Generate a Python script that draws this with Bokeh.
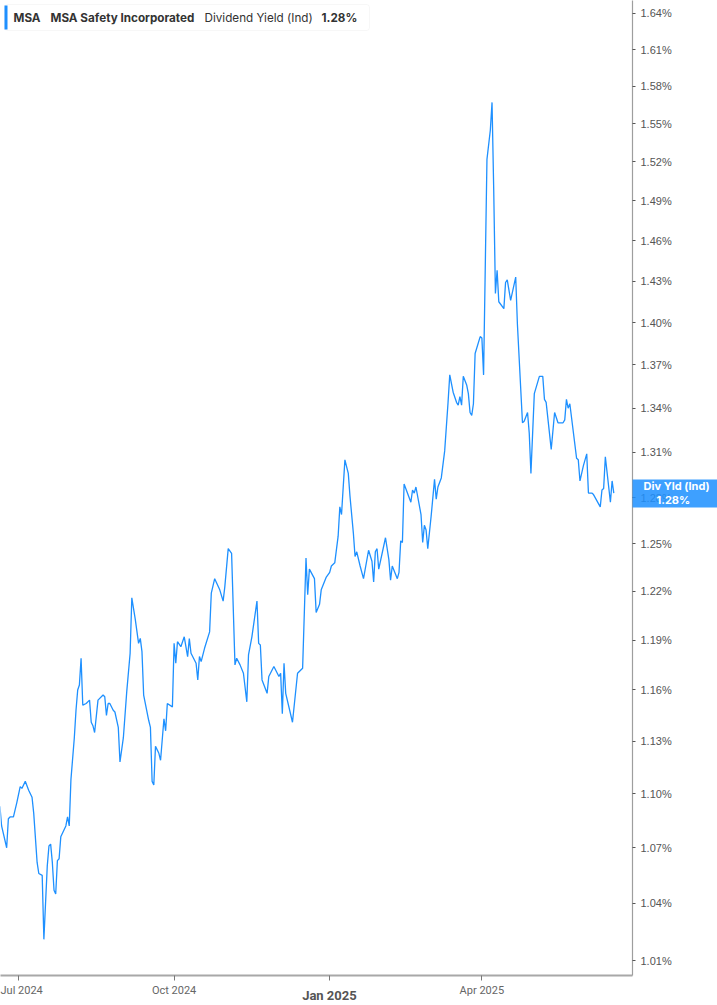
import pandas as pd
from bokeh.plotting import figure
from bokeh.models import FixedTicker, PrintfTickFormatter, Label, BoxAnnotation, Range1d, LogAxis
from bokeh.embed import file_html
from bokeh.resources import INLINE

# ---------------- data ----------------
dates = [
    "2024-06-20", "2024-06-21", "2024-06-24", "2024-06-25", "2024-06-26", "2024-06-28", "2024-06-30",
    "2024-07-02", "2024-07-03", "2024-07-05", "2024-07-07", "2024-07-09", "2024-07-10", "2024-07-12",
    "2024-07-13", "2024-07-15", "2024-07-16", "2024-07-18", "2024-07-19", "2024-07-20", "2024-07-21",
    "2024-07-22", "2024-07-23", "2024-07-24", "2024-07-25", "2024-07-26", "2024-07-29", "2024-07-30",
    "2024-07-31", "2024-08-01", "2024-08-03", "2024-08-04", "2024-08-05", "2024-08-06", "2024-08-07",
    "2024-08-08", "2024-08-10", "2024-08-12", "2024-08-13", "2024-08-14", "2024-08-15", "2024-08-17",
    "2024-08-20", "2024-08-21", "2024-08-22", "2024-08-23", "2024-08-24", "2024-08-26", "2024-08-27",
    "2024-08-29", "2024-08-30", "2024-09-01", "2024-09-03", "2024-09-05", "2024-09-06", "2024-09-08",
    "2024-09-10", "2024-09-11", "2024-09-12", "2024-09-13", "2024-09-16", "2024-09-17", "2024-09-18",
    "2024-09-19", "2024-09-20", "2024-09-22", "2024-09-23", "2024-09-25", "2024-09-26", "2024-09-27",
    "2024-09-30", "2024-10-01", "2024-10-02", "2024-10-03", "2024-10-05", "2024-10-07", "2024-10-09",
    "2024-10-10", "2024-10-11", "2024-10-14", "2024-10-15", "2024-10-16", "2024-10-17", "2024-10-19",
    "2024-10-22", "2024-10-23", "2024-10-25", "2024-10-28", "2024-10-30", "2024-10-31", "2024-11-02",
    "2024-11-04", "2024-11-06", "2024-11-07", "2024-11-09", "2024-11-11", "2024-11-13", "2024-11-14",
    "2024-11-16", "2024-11-19", "2024-11-20", "2024-11-21", "2024-11-22", "2024-11-25", "2024-11-26",
    "2024-11-29", "2024-12-02", "2024-12-03", "2024-12-04", "2024-12-05", "2024-12-06", "2024-12-10",
    "2024-12-13", "2024-12-16", "2024-12-18", "2024-12-19", "2024-12-20", "2024-12-23", "2024-12-24",
    "2024-12-26", "2024-12-27", "2024-12-30", "2025-01-01", "2025-01-02", "2025-01-04", "2025-01-06",
    "2025-01-07", "2025-01-08", "2025-01-10", "2025-01-12", "2025-01-13", "2025-01-15", "2025-01-16",
    "2025-01-17", "2025-01-19", "2025-01-21", "2025-01-24", "2025-01-26", "2025-01-27", "2025-01-28",
    "2025-01-29", "2025-01-30", "2025-02-03", "2025-02-05", "2025-02-06", "2025-02-07", "2025-02-10",
    "2025-02-11", "2025-02-12", "2025-02-13", "2025-02-14", "2025-02-18", "2025-02-19", "2025-02-20",
    "2025-02-21", "2025-02-24", "2025-02-25", "2025-02-26", "2025-02-27", "2025-02-28", "2025-03-02",
    "2025-03-04", "2025-03-05", "2025-03-06", "2025-03-08", "2025-03-10", "2025-03-12", "2025-03-13",
    "2025-03-15", "2025-03-17", "2025-03-18", "2025-03-19", "2025-03-20", "2025-03-21", "2025-03-23",
    "2025-03-24", "2025-03-25", "2025-03-26", "2025-03-27", "2025-03-28", "2025-03-31", "2025-04-01",
    "2025-04-02", "2025-04-04", "2025-04-06", "2025-04-07", "2025-04-08", "2025-04-09", "2025-04-10",
    "2025-04-11", "2025-04-14", "2025-04-15", "2025-04-16", "2025-04-18", "2025-04-21", "2025-04-22",
    "2025-04-25", "2025-04-26", "2025-04-28", "2025-04-29", "2025-04-30", "2025-05-02", "2025-05-05",
    "2025-05-07", "2025-05-08", "2025-05-09", "2025-05-12", "2025-05-14", "2025-05-16", "2025-05-19",
    "2025-05-20", "2025-05-21", "2025-05-22", "2025-05-23", "2025-05-27", "2025-05-28", "2025-05-29",
    "2025-05-31", "2025-06-02", "2025-06-03", "2025-06-05", "2025-06-06", "2025-06-10", "2025-06-11",
    "2025-06-12", "2025-06-13", "2025-06-16", "2025-06-17", "2025-06-18",
]

div_yield = [
    1.093, 1.082, 1.070, 1.086, 1.087, 1.087, 1.095,
    1.104, 1.103, 1.107, 1.102, 1.098, 1.089, 1.062,
    1.056, 1.055, 1.021, 1.060, 1.071, 1.072, 1.062,
    1.047, 1.045, 1.063, 1.064, 1.076, 1.082, 1.087,
    1.082, 1.108, 1.132, 1.148, 1.160, 1.163, 1.179,
    1.151, 1.152, 1.154, 1.141, 1.139, 1.135, 1.154,
    1.157, 1.156, 1.145, 1.152, 1.152, 1.148, 1.147,
    1.138, 1.118, 1.132, 1.159, 1.182, 1.216, 1.203,
    1.188, 1.191, 1.183, 1.157, 1.142, 1.138, 1.107,
    1.105, 1.127, 1.123, 1.119, 1.143, 1.136, 1.152,
    1.150, 1.188, 1.176, 1.189, 1.186, 1.192, 1.180,
    1.191, 1.182, 1.176, 1.166, 1.180, 1.177, 1.185,
    1.195, 1.219, 1.228, 1.221, 1.214, 1.223, 1.247,
    1.244, 1.175, 1.179, 1.175, 1.170, 1.153, 1.181,
    1.192, 1.214, 1.188, 1.187, 1.166, 1.158, 1.168,
    1.174, 1.168, 1.170, 1.146, 1.176, 1.158, 1.141,
    1.170, 1.173, 1.241, 1.218, 1.234, 1.228, 1.207,
    1.212, 1.221, 1.229, 1.232, 1.236, 1.238, 1.255,
    1.274, 1.269, 1.305, 1.296, 1.281, 1.257, 1.242,
    1.245, 1.236, 1.228, 1.246, 1.239, 1.226, 1.245,
    1.247, 1.234, 1.254, 1.240, 1.227, 1.236, 1.228,
    1.232, 1.252, 1.251, 1.289, 1.277, 1.285, 1.283,
    1.287, 1.269, 1.251, 1.262, 1.259, 1.247, 1.268,
    1.292, 1.279, 1.287, 1.293, 1.311, 1.344, 1.363,
    1.351, 1.344, 1.342, 1.348, 1.342, 1.362, 1.356,
    1.350, 1.337, 1.335, 1.343, 1.378, 1.390, 1.389,
    1.363, 1.522, 1.545, 1.567, 1.498, 1.421, 1.438,
    1.415, 1.410, 1.429, 1.431, 1.416, 1.433, 1.399,
    1.330, 1.331, 1.337, 1.323, 1.296, 1.350, 1.362,
    1.362, 1.346, 1.344, 1.312, 1.337, 1.330, 1.330,
    1.332, 1.346, 1.340, 1.343, 1.306, 1.305, 1.291,
    1.301, 1.309, 1.283, 1.283, 1.282, 1.274, 1.285,
    1.286, 1.307, 1.277, 1.291, 1.283,
]

x_tick_dates = ["2024-07-01", "2024-10-01", "2025-01-01", "2025-04-01"]
x_tick_labels = ["Jul 2024", "Oct 2024", "Jan 2025", "Apr 2025"]
bold_tick = "Jan 2025"
y_ticks = [1.01, 1.04, 1.07, 1.10, 1.13, 1.16, 1.19, 1.22, 1.25, 1.28, 1.31,
           1.34, 1.37, 1.40, 1.43, 1.46, 1.49, 1.52, 1.55, 1.58, 1.61, 1.64]

symbol = "MSA"
company = "MSA Safety Incorporated"
metric = "Dividend Yield (Ind)"
badge_name = "Div Yld (Ind)"

# ---------------- figure ----------------
def ms(s):
    return pd.Timestamp(s).value / 1e6

DAY = 86400000.0
W, H = 717, 1005
RIGHT, BOTTOM = 85, 30
FW, FH = W - RIGHT, H - BOTTOM

BLUE = "#1E90FF"
LINE = "#1E90FF"
HFONT = "Inter"
XFONT = "Roboto"
YFONT = "Liberation Sans"

x_start = ms("2024-07-01") - 10.65 * DAY
x_end = ms("2024-07-01") + 363.06 * DAY

p = figure(width=W, height=H, x_axis_type="datetime", y_axis_type="log",
           y_axis_location="right",
           x_range=Range1d(x_start, x_end), y_range=Range1d(1.00228, 1.6509),
           output_backend="svg", toolbar_location=None,
           min_border_left=0, min_border_top=0,
           min_border_right=RIGHT, min_border_bottom=BOTTOM)
p.grid.visible = False
p.outline_line_color = None
p.background_fill_color = "white"
p.border_fill_color = "white"

p.line(x=pd.to_datetime(dates), y=div_yield, line_color=LINE, line_width=1.3)

last = div_yield[-1]

# right (value) axis
ya = p.yaxis[0]
ya.ticker = FixedTicker(ticks=y_ticks)
ya.formatter = PrintfTickFormatter(format="%.2f%%")
ya.axis_line_color = "#9e9e9e"
ya.axis_line_width = 1.2
ya.major_tick_out = 3
ya.major_tick_in = 0
ya.major_tick_line_color = "#555555"
ya.minor_tick_out = 0
ya.minor_tick_in = 0
ya.major_label_standoff = 5
ya.major_label_text_font = YFONT
ya.major_label_text_font_size = "11px"
ya.major_label_text_color = "#555555"

# last-value badge: a second right axis whose single, very thick tick is the box
badge = LogAxis(ticker=FixedTicker(ticks=[last]),
                formatter=PrintfTickFormatter(format=badge_name + "\n" + "\u00a0" * 5 + "%.2f%%"))
badge.axis_line_color = None
badge.major_tick_in = 42
badge.major_tick_out = 43
badge.major_tick_line_width = 28
badge.major_tick_line_color = BLUE
badge.major_tick_line_alpha = 0.86
badge.major_tick_line_cap = "butt"
badge.minor_tick_in = 0
badge.minor_tick_out = 0
badge.major_label_standoff = -74
badge.major_label_text_color = "white"
badge.major_label_text_font = HFONT
badge.major_label_text_font_style = "bold"
badge.major_label_text_font_size = "11px"
badge.major_label_text_line_height = 1.05
p.add_layout(badge, "right")

# bottom (time) axis
xa = p.xaxis[0]
xt = [ms(d) for d in x_tick_dates]
xa.ticker = FixedTicker(ticks=xt)
xa.major_label_overrides = {t: ("" if lab == bold_tick else lab) for t, lab in zip(xt, x_tick_labels)}
xa.axis_line_color = "#a8a8a8"
xa.axis_line_width = 2
xa.major_tick_out = 5
xa.major_tick_in = 0
xa.major_tick_line_color = "#777777"
xa.minor_tick_out = 0
xa.minor_tick_in = 0
xa.major_label_standoff = 3
xa.major_label_text_font = XFONT
xa.major_label_text_font_size = "11px"
xa.major_label_text_color = "#666666"
xa.axis_label = "\u00a0" * 8 + bold_tick
xa.axis_label_text_font = XFONT
xa.axis_label_text_font_size = "13px"
xa.axis_label_text_font_style = "bold"
xa.axis_label_text_color = "#555555"
xa.axis_label_standoff = -12

# header legend box
p.add_layout(BoxAnnotation(left=4, right=369, top=FH - 4, bottom=FH - 30,
                           left_units="screen", right_units="screen",
                           top_units="screen", bottom_units="screen",
                           fill_color="white", fill_alpha=1.0,
                           line_color="#e6e6e6", line_width=1, border_radius=3))
p.add_layout(BoxAnnotation(left=4, right=7, top=FH - 5, bottom=FH - 29,
                           left_units="screen", right_units="screen",
                           top_units="screen", bottom_units="screen",
                           fill_color=BLUE, fill_alpha=1.0, line_color=None))
header = [(13, symbol, "bold"), (50, company, "bold"), (204, metric, "normal"),
          (321, "%.2f%%" % last, "bold")]
for hx, txt, style in header:
    p.add_layout(Label(x=hx, y=FH - 17, x_units="screen", y_units="screen", text=txt,
                       text_baseline="middle", text_font=HFONT, text_font_size="11.7px",
                       text_font_style=style, text_color="#333333"))

open("out.html", "w").write(file_html(p, INLINE))
